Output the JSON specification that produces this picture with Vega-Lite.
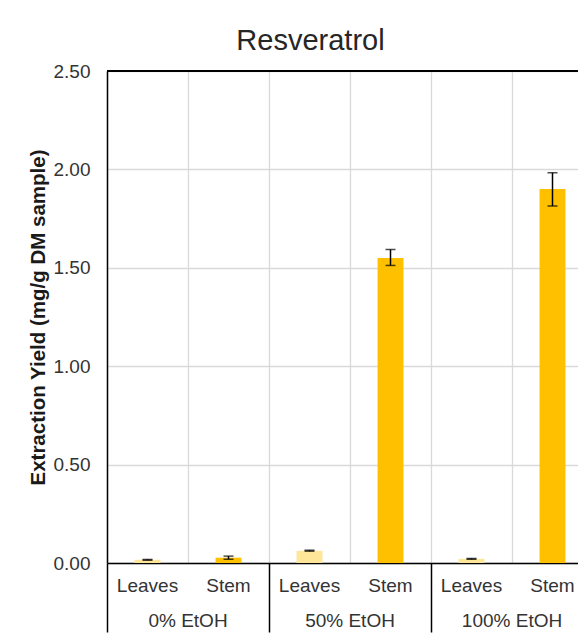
{
  "$schema": "https://vega.github.io/schema/vega-lite/v6.json",
  "autosize": {"type": "none"},
  "width": 471,
  "height": 492,
  "padding": {"left": 107, "top": 71, "right": 0, "bottom": 72},
  "background": "white",
  "config": {"view": {"stroke": null}, "font": "Liberation Sans"},
  "title": {
    "text": "Resveratrol",
    "font": "Liberation Sans",
    "fontSize": 29,
    "fontWeight": "normal",
    "color": "#262626",
    "anchor": "middle",
    "frame": "group",
    "baseline": "alphabetic",
    "offset": 21,
    "dx": -32,
    "dy": 38
  },
  "data": {
    "values": [
      {"cat": "0% EtOH|Leaves", "group": "0% EtOH", "part": "Leaves", "value": 0.016, "lo": 0.014, "hi": 0.018},
      {"cat": "0% EtOH|Stem", "group": "0% EtOH", "part": "Stem", "value": 0.027, "lo": 0.019, "hi": 0.035},
      {"cat": "50% EtOH|Leaves", "group": "50% EtOH", "part": "Leaves", "value": 0.062, "lo": 0.06, "hi": 0.065},
      {"cat": "50% EtOH|Stem", "group": "50% EtOH", "part": "Stem", "value": 1.55, "lo": 1.512, "hi": 1.593},
      {"cat": "100% EtOH|Leaves", "group": "100% EtOH", "part": "Leaves", "value": 0.021, "lo": 0.019, "hi": 0.023},
      {"cat": "100% EtOH|Stem", "group": "100% EtOH", "part": "Stem", "value": 1.9, "lo": 1.814, "hi": 1.983}
    ]
  },
  "layer": [
    {
      "mark": {"type": "rule", "opacity": 0},
      "encoding": {
        "x": {
          "field": "cat",
          "type": "nominal",
          "sort": null,
          "scale": {"type": "band", "range": [0, 486], "paddingInner": 0, "paddingOuter": 0},
          "axis": {
            "orient": "top",
            "title": null,
            "labels": false,
            "ticks": false,
            "domain": false,
            "grid": true,
            "bandPosition": 0,
            "gridColor": "#D9D9D9",
            "gridWidth": 1.3
          }
        }
      }
    },
    {
      "layer": [
        {
          "mark": {"type": "bar"},
          "encoding": {
            "x": {
              "field": "cat",
              "type": "nominal",
              "sort": null,
              "scale": {"type": "band", "range": [0, 486], "paddingInner": 0.68, "paddingOuter": 0.34},
              "axis": {
                "title": null,
                "labelExpr": "split(datum.value, '|')[1]",
                "labelAngle": 0,
                "labelFontSize": 19,
                "labelColor": "#333333",
                "labelPadding": 13,
                "ticks": false,
                "domain": true,
                "domainColor": "black",
                "domainWidth": 1.5,
                "grid": false
              }
            },
            "y": {
              "field": "value",
              "type": "quantitative",
              "scale": {"domain": [0, 2.5], "nice": false},
              "axis": {
                "title": "Extraction Yield (mg/g DM sample)",
                "titleFontSize": 20.5,
                "titleFontWeight": "bold",
                "titleColor": "#1a1a1a",
                "titlePadding": 5,
                "values": [0, 0.5, 1, 1.5, 2, 2.5],
                "format": ".2f",
                "labelFontSize": 19,
                "labelColor": "#333333",
                "labelPadding": 17,
                "ticks": false,
                "domain": true,
                "domainColor": "black",
                "domainWidth": 1.5,
                "gridColor": "#D9D9D9",
                "gridWidth": 1.3
              }
            },
            "color": {
              "field": "part",
              "type": "nominal",
              "scale": {"domain": ["Leaves", "Stem"], "range": ["#FFE699", "#FFC000"]},
              "legend": null
            }
          }
        },
        {
          "mark": {"type": "rule", "color": "black", "strokeWidth": 1.5},
          "encoding": {
            "x": {"field": "cat", "type": "nominal", "sort": null},
            "y": {"field": "lo", "type": "quantitative"},
            "y2": {"field": "hi"}
          }
        },
        {
          "mark": {"type": "tick", "color": "black", "thickness": 1.5, "size": 10},
          "encoding": {
            "x": {"field": "cat", "type": "nominal", "sort": null},
            "y": {"field": "lo", "type": "quantitative"}
          }
        },
        {
          "mark": {"type": "tick", "color": "black", "thickness": 1.5, "size": 10},
          "encoding": {
            "x": {"field": "cat", "type": "nominal", "sort": null},
            "y": {"field": "hi", "type": "quantitative"}
          }
        }
      ]
    },
    {
      "data": {"values": [{"group": "0% EtOH"}, {"group": "50% EtOH"}, {"group": "100% EtOH"}]},
      "mark": {"type": "rule", "opacity": 0},
      "encoding": {
        "x": {
          "field": "group",
          "type": "nominal",
          "sort": null,
          "scale": {"type": "band", "range": [0, 486], "paddingInner": 0, "paddingOuter": 0},
          "axis": {
            "orient": "bottom",
            "title": null,
            "domain": false,
            "grid": false,
            "ticks": true,
            "bandPosition": 0,
            "tickSize": 69,
            "tickColor": "black",
            "tickWidth": 1.5,
            "labelPadding": -21,
            "labelAngle": 0,
            "labelFontSize": 19,
            "labelColor": "#333333"
          }
        }
      }
    },
    {
      "data": {"values": [{"edge": "top"}]},
      "mark": {"type": "rule", "color": "black", "strokeWidth": 1.8},
      "encoding": {"y": {"datum": 2.5}}
    }
  ],
  "resolve": {"scale": {"x": "independent"}, "axis": {"x": "independent"}}
}
